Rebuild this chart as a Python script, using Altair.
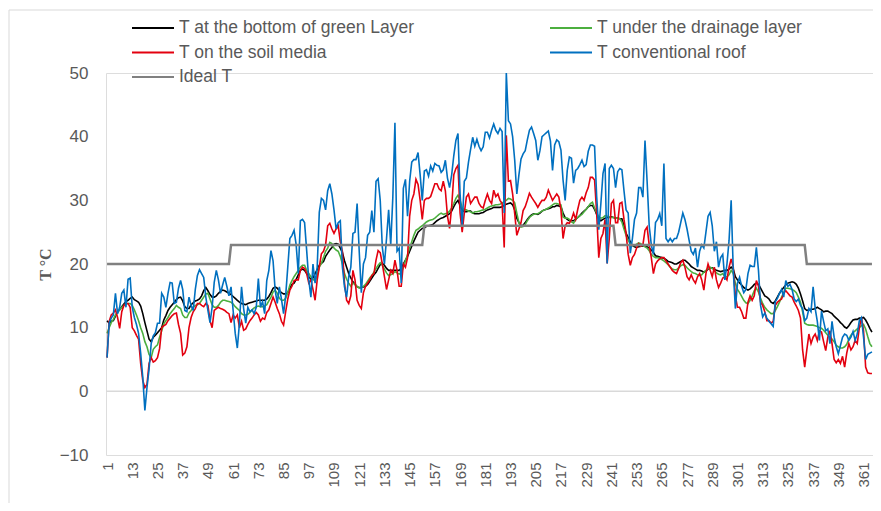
import altair as alt
import pandas as pd

days = list(range(1, 366))

t_bottom = [
    11.1, 10.7, 11.0, 11.1, 11.8, 12.5, 12.8, 13.3, 13.7, 14.1,
    14.3, 14.6, 14.8, 14.4, 14.2, 14.0, 13.4, 12.2, 10.8, 9.5,
    8.2, 7.8, 8.5, 8.8, 9.2, 9.6, 10.0, 11.2, 11.9, 12.7,
    13.2, 13.6, 14.0, 14.4, 14.7, 14.8, 14.2, 13.3, 13.0, 13.0,
    13.6, 13.9, 14.2, 14.3, 14.5, 15.0, 15.8, 16.3, 15.8, 15.2,
    14.8, 14.8, 15.0, 15.4, 15.7, 15.9, 15.8, 15.6, 15.4, 15.2,
    14.9, 14.6, 14.3, 14.0, 13.8, 13.7, 13.6, 13.8, 13.9, 14.0,
    14.1, 14.2, 14.3, 14.3, 14.3, 14.3, 14.5, 14.9, 15.5, 16.2,
    16.4, 16.2, 15.8, 15.5, 15.3, 15.3, 15.5, 16.2, 16.8, 17.0,
    17.6, 18.3, 19.0, 19.2, 19.0, 18.5, 18.0, 17.6, 17.8, 18.5,
    19.1, 19.8, 20.1, 20.4, 21.2, 21.7, 22.2, 22.6, 23.1, 23.2,
    23.1, 22.5, 21.8, 20.5, 19.5, 18.5, 17.8, 17.2, 16.8, 16.4,
    16.3, 16.3, 16.4, 16.5, 16.8, 17.3, 17.8, 18.3, 18.7, 19.3,
    19.9, 20.1, 19.8, 19.3, 19.0, 19.0, 19.0, 19.0, 19.0, 19.0,
    19.3, 20.0, 20.6, 21.2, 22.0, 22.8, 23.6, 24.3, 25.0, 25.3,
    25.6, 25.7, 25.9, 26.0, 26.1, 26.2, 26.5, 26.8, 27.0, 27.2,
    27.3, 27.5, 27.7, 27.9, 28.3, 29.0, 29.6, 30.0, 29.2, 28.5,
    28.2, 28.2, 28.3, 28.3, 28.0, 27.9, 27.9, 27.9, 28.0, 28.1,
    28.3, 28.5, 28.6, 28.7, 28.9, 28.9, 28.9, 28.9, 29.0, 29.2,
    29.4, 29.5, 29.6, 29.3, 28.5, 27.2, 26.5, 26.0, 26.1, 26.5,
    27.0, 27.4, 27.7, 27.9, 27.9, 27.8, 28.0, 28.3, 28.5, 28.6,
    28.7, 28.8, 29.0, 29.0, 29.2, 29.1, 29.0, 28.0, 27.3, 27.0,
    26.8, 26.8, 26.8, 27.0, 27.3, 27.6, 28.0, 28.3, 28.6, 29.0,
    29.2, 29.2, 28.6, 27.8, 27.0, 26.8, 27.0, 27.2, 27.3, 27.3,
    27.4, 27.3, 27.2, 27.2, 27.1, 27.1, 26.0, 24.8, 24.2, 23.5,
    22.9, 22.7, 22.6, 22.7, 22.8, 22.8, 22.8, 22.7, 22.5, 22.2,
    21.8, 21.3, 21.2, 21.1, 21.0, 20.9, 20.7, 20.4, 20.3, 20.2,
    20.0, 20.0, 20.2, 20.4, 20.6, 20.6, 20.3, 20.0, 19.6, 19.4,
    19.2, 19.0, 19.0, 18.9, 18.7, 18.9, 19.2, 19.4, 19.4, 19.2,
    19.0, 18.9, 18.8, 18.9, 19.0, 19.0, 19.2, 19.5, 19.2, 18.0,
    17.5, 17.0, 16.7, 16.3, 16.1, 15.9, 16.1, 16.4, 16.8, 17.0,
    16.8, 16.2, 15.6, 15.0, 14.8, 14.5, 14.0, 13.8, 14.2, 14.8,
    15.4, 15.9, 16.3, 16.7, 17.0, 17.1, 17.2, 17.1, 16.8, 16.2,
    15.3, 14.2, 13.0, 12.7, 12.8, 12.9, 12.9, 13.0, 13.2, 13.0,
    12.8, 12.5, 12.6, 12.6, 12.4, 12.2, 11.8, 11.5, 11.2, 10.8,
    10.5, 10.1, 9.9, 10.3, 10.8, 11.2, 11.3, 11.3, 11.5, 11.5,
    11.6, 11.2, 10.6, 9.9, 9.3,
]

t_drain = [
    9.1, 10.0, 10.8, 11.3, 12.0, 12.4, 12.8, 13.2, 13.5, 13.7,
    13.8, 13.8, 13.5, 12.8, 12.0, 11.1, 10.0, 9.1, 7.8, 7.0,
    5.8, 5.3, 6.6, 7.0, 7.3, 8.5, 9.5, 10.6, 11.1, 11.6,
    12.2, 12.6, 13.0, 13.5, 13.2, 13.0, 12.0, 11.6, 11.6, 12.3,
    12.7, 13.2, 13.5, 13.6, 13.8, 14.3, 14.8, 15.3, 15.4, 14.5,
    13.6, 13.2, 13.2, 13.5, 14.0, 14.3, 14.3, 14.2, 14.1, 14.0,
    13.7, 13.3, 13.0, 12.7, 12.2, 12.0, 12.0, 12.1, 12.4, 12.8,
    13.1, 13.3, 13.4, 13.3, 13.3, 13.4, 13.6, 14.2, 14.8, 15.6,
    15.9, 15.4, 14.6, 14.3, 14.3, 14.6, 15.5, 16.7, 17.4, 18.0,
    18.5, 19.0, 19.5, 19.8, 19.8, 19.0, 18.5, 18.0, 17.6, 17.3,
    18.2, 19.5, 20.1, 21.0, 22.0, 22.5, 23.4, 23.2, 22.5, 22.2,
    22.0, 21.2, 20.0, 18.5, 17.6, 17.0, 16.5, 17.0, 16.8, 16.5,
    16.2, 16.3, 16.5, 16.8, 17.3, 17.8, 18.2, 18.7, 19.3, 19.8,
    20.2, 19.8, 19.2, 18.6, 18.2, 18.3, 18.5, 18.8, 18.6, 18.4,
    18.6, 19.5, 20.5, 21.5, 22.5, 23.5, 24.5, 25.3, 25.5, 25.8,
    26.0, 26.3, 26.6, 26.8, 26.9, 27.0, 27.2, 27.5, 27.8, 28.0,
    27.8, 27.9, 28.0, 28.3, 28.8, 29.5, 30.3, 30.8, 30.0, 28.8,
    28.5, 28.5, 28.3, 28.2, 28.0, 28.2, 28.2, 28.3, 28.4, 28.5,
    28.6, 28.8, 29.0, 29.1, 29.2, 29.3, 29.3, 29.4, 29.6, 29.8,
    30.0, 30.3, 30.2, 30.0, 29.6, 28.0, 26.5, 25.8, 25.9, 26.2,
    26.8, 27.3, 27.6, 27.8, 27.9, 27.9, 28.1, 28.3, 28.5, 28.6,
    28.8, 29.0, 29.3, 29.5, 29.5, 29.4, 29.3, 27.4, 27.2, 27.2,
    27.0, 26.6, 26.4, 27.0, 27.3, 27.6, 27.8, 28.2, 28.6, 29.0,
    29.5, 29.7, 28.8, 28.0, 27.4, 27.2, 27.3, 27.6, 27.5, 27.4,
    27.3, 27.3, 27.2, 27.2, 27.1, 26.6, 25.5, 24.5, 23.7, 23.2,
    22.9, 22.9, 23.1, 23.3, 23.2, 22.9, 22.7, 22.5, 22.1, 21.5,
    21.2, 21.0, 21.0, 20.9, 20.7, 20.5, 20.2, 19.9, 19.5, 19.2,
    19.1, 19.1, 19.4, 19.7, 19.9, 19.8, 19.4, 19.1, 18.8, 18.6,
    18.5, 18.3, 18.2, 18.3, 18.7, 19.0, 19.3, 19.5, 19.3, 19.0,
    18.6, 18.4, 18.3, 18.5, 18.0, 18.0, 18.3, 19.0, 18.5, 17.0,
    16.0, 15.5, 14.9, 14.3, 13.9, 13.8, 14.3, 15.0, 15.8, 16.2,
    15.6, 14.6, 13.8, 13.2, 12.8, 12.5, 12.2, 12.2, 12.7, 13.3,
    14.0, 14.8, 15.5, 16.2, 16.2, 16.1, 16.0, 15.8, 15.5, 14.8,
    14.0, 12.5, 10.7, 10.5, 10.4, 10.4, 10.4, 10.3, 10.2, 10.0,
    9.9, 9.6, 9.2, 8.8, 8.5, 8.2, 7.8, 7.2, 7.0, 6.8,
    6.8, 7.0, 7.4, 8.2, 8.8, 9.2, 9.5, 9.8, 10.0, 10.3,
    10.5, 9.8, 8.6, 7.5, 7.0,
]

t_soil = [
    5.3, 11.0, 12.0, 12.3, 12.8, 11.6, 9.9, 12.5, 13.5, 13.8,
    13.8, 13.2, 10.0, 9.5, 8.8, 8.2, 4.4, 1.7, 0.6, 1.1,
    4.4, 5.3, 4.6, 4.8, 5.3, 6.7, 10.0, 10.3, 10.5, 11.1,
    11.5, 11.9, 12.2, 12.3, 10.5, 9.1, 5.7, 6.0, 7.0, 10.0,
    11.6, 12.5, 13.0, 13.8, 13.8, 13.5, 13.3, 13.8, 13.5, 11.1,
    10.0, 12.7, 13.0, 13.2, 13.0, 12.9, 12.7, 12.4, 12.2, 10.8,
    12.0, 11.5, 12.0, 10.0, 11.0, 9.6, 9.8, 10.5, 11.1, 11.5,
    12.0, 12.4, 12.0, 11.0, 11.5, 11.3, 12.4, 12.8, 13.8, 14.8,
    14.0, 13.0, 12.2, 11.0, 10.4, 12.5, 14.5, 15.9, 16.5, 17.4,
    17.5, 17.5, 19.0, 19.5, 19.3, 18.5, 17.0, 17.5, 16.0, 14.3,
    17.5, 19.5, 21.6, 22.0, 23.0, 26.0, 26.4, 25.5, 24.8, 25.5,
    26.0, 23.5, 22.0, 17.0, 14.3, 13.8, 15.0, 19.0, 17.5, 14.3,
    13.5, 13.0, 15.5, 16.5, 17.0, 17.5, 18.2, 18.5, 20.6, 22.1,
    21.8, 20.0, 18.0, 16.0, 17.5, 19.0, 18.5, 20.6, 19.0, 16.5,
    16.5, 20.0, 19.5, 21.0, 27.5, 30.0, 31.0, 33.3, 32.5, 30.0,
    27.0, 30.0, 30.3, 30.3, 30.6, 31.6, 32.6, 32.6, 31.8, 31.5,
    33.0, 31.5, 27.5, 25.6, 29.0, 34.0, 35.0, 35.5, 28.0, 25.0,
    28.0, 30.5, 31.0, 29.5, 30.0, 30.5, 30.5, 29.5, 29.0, 28.8,
    30.0, 31.0, 30.0, 29.5, 31.6, 30.6, 31.0, 30.0, 29.5, 22.6,
    40.2, 33.0, 33.1, 31.0, 27.9, 24.5, 25.5, 26.5, 28.4, 29.0,
    30.0, 31.1, 30.5, 30.0, 29.5, 28.9, 29.5, 30.0, 30.0, 30.5,
    31.6, 30.8, 30.0, 30.5, 31.0, 30.5, 28.5, 24.0, 26.0, 26.5,
    26.4, 27.0, 28.0, 27.0, 28.6, 30.0, 30.5, 30.0, 31.2, 32.0,
    33.6, 33.6, 33.2, 28.0, 21.0, 24.0, 24.8, 27.0, 20.1, 24.0,
    29.5, 30.0, 26.5, 26.5, 29.5, 29.7, 27.0, 24.8, 21.5, 19.8,
    21.0, 21.5, 22.5, 23.2, 22.8, 23.0, 25.3, 25.8, 23.0, 21.0,
    18.5, 20.0, 20.5, 20.8, 21.0, 21.0, 20.5, 20.0, 19.5, 19.0,
    18.7, 18.5, 19.3, 20.2, 20.6, 19.5, 18.0, 17.5, 18.3, 17.5,
    17.0, 18.0, 18.5, 17.5, 15.9, 18.5, 20.0, 19.0, 18.0, 19.5,
    17.5, 16.3, 17.0, 17.8, 18.0, 17.5, 19.5, 20.8, 19.5, 15.0,
    13.2, 13.2, 12.5, 11.5, 11.5, 14.0, 15.0, 14.3, 15.0, 17.4,
    16.5, 14.0, 13.5, 12.5, 11.1, 11.1, 10.7, 11.0, 13.5, 14.0,
    14.3, 14.5, 15.4, 15.8, 15.4, 15.0, 14.8, 14.0, 13.4, 12.7,
    11.5, 6.5, 3.8, 6.5, 9.0, 7.5, 8.5, 9.0, 8.0, 9.5,
    9.3, 7.8, 6.4, 8.5, 9.5, 7.5, 5.0, 4.5, 5.0, 4.4,
    5.5, 3.8, 6.0, 7.5, 6.5, 7.0, 8.0, 7.5, 10.0, 11.6,
    9.5, 3.8, 2.9, 2.8, 2.8,
]

t_conv = [
    5.3, 10.7, 11.5, 12.0, 15.4, 12.2, 13.2, 15.4, 15.9, 13.2,
    17.6, 17.8, 13.2, 11.6, 10.5, 9.1, 6.0, 2.2, -3.0, 0.6,
    3.5, 7.5, 8.7, 9.2, 10.7, 10.7, 15.4, 14.8, 13.2, 15.4,
    17.1, 17.0, 13.8, 14.0, 16.2, 17.4, 16.0, 12.7, 12.5, 14.8,
    13.5, 12.7, 16.0, 18.2, 19.1, 18.5, 17.9, 14.8, 12.7, 10.8,
    13.2, 17.1, 19.0, 17.5, 15.4, 16.7, 17.9, 16.5, 15.0, 16.4,
    12.7, 9.1, 6.8, 10.7, 16.4, 13.0, 10.7, 13.2, 12.5, 12.8,
    12.2, 13.2, 17.7, 13.2, 14.1, 12.2, 17.4, 19.0, 22.1, 20.5,
    15.9, 13.8, 16.4, 14.5, 12.2, 15.0, 19.5, 24.0, 24.5, 25.3,
    23.0, 18.5, 26.8, 27.0, 26.5, 22.1, 17.5, 14.8, 20.0, 17.0,
    19.5, 28.1, 30.3, 30.0, 28.5, 31.5, 32.6, 31.0, 28.5, 25.5,
    26.5, 26.8, 19.5, 16.4, 14.8, 18.0, 19.5, 24.8, 25.0, 29.5,
    22.0, 15.5, 20.0, 21.0, 24.5, 25.0, 28.4, 25.0, 33.0, 33.4,
    30.0, 22.6, 20.0, 24.0, 28.5, 23.0, 30.5, 42.2, 22.0, 22.5,
    17.0, 31.9, 33.3, 27.5, 33.0, 36.0, 36.4, 36.4, 37.5, 34.0,
    30.0, 34.6, 34.8, 33.8, 35.4, 34.6, 35.8, 35.5, 35.4, 34.4,
    34.8, 36.3, 33.5, 32.0, 34.0, 37.0, 39.4, 40.5, 31.0, 26.0,
    33.0, 33.5, 36.0, 38.0, 39.9, 38.5, 39.6, 38.5, 37.8, 38.4,
    40.7, 40.7, 39.8, 41.0, 42.0, 41.0, 40.5, 41.3, 40.8, 28.0,
    50.0, 42.5, 42.0, 40.0, 36.3, 31.0, 34.0, 36.5, 37.3, 37.8,
    39.5, 41.0, 41.5, 40.5, 39.4, 36.3, 37.8, 40.0, 40.3, 40.6,
    40.9, 39.3, 34.7, 38.7, 39.5, 39.2, 37.9, 33.2, 30.0, 34.7,
    36.8, 36.6, 32.7, 34.7, 35.0, 35.6, 36.3, 35.3, 35.6, 37.7,
    38.7, 38.7, 38.5, 30.6, 25.4, 29.5, 34.2, 35.8, 20.1, 35.0,
    35.5, 35.0, 32.0, 34.5, 35.0, 34.8, 31.5, 28.5, 28.0, 21.7,
    24.0, 27.0, 28.0, 32.0, 32.0, 30.5, 39.4, 33.0, 26.0, 23.0,
    21.5, 26.5, 27.0, 27.9, 26.0, 35.8, 24.0, 23.5, 24.0, 23.5,
    24.0, 24.0, 25.0, 26.5, 28.0, 27.0, 25.5, 23.7, 22.0, 21.5,
    22.5, 19.5, 22.0, 23.0, 22.5, 25.0, 27.5, 28.1, 26.0, 22.0,
    23.5, 19.5, 21.0, 21.5, 17.5, 20.0, 23.7, 30.0, 19.0, 13.0,
    17.0, 17.9, 16.5, 15.5, 16.0, 18.5, 19.8, 19.6, 19.6, 22.6,
    19.0, 13.5, 11.7, 12.3, 11.5, 11.0, 10.6, 10.2, 14.1, 14.6,
    15.4, 16.0, 14.8, 17.4, 16.5, 16.8, 16.0, 14.5, 14.1, 14.5,
    13.5, 13.0, 11.1, 11.5, 13.0, 12.5, 16.4, 13.0, 11.0, 8.0,
    12.6, 11.0, 9.5, 9.8, 7.5, 11.0, 8.5, 7.0, 5.9, 7.2,
    8.5, 9.0, 8.8, 8.0, 8.5, 9.4, 8.0, 9.0, 11.1, 11.6,
    8.5, 5.0, 5.8, 6.0, 6.2,
]

ideal = [20] * 59 + [23] * 92 + [26] * 91 + [23] * 91 + [20] * 32

names = [
    "T at the bottom of green Layer",
    "T under the drainage layer",
    "T on the soil media",
    "T conventional roof",
    "Ideal T",
]
colors = ["#000000", "#4CAF3F", "#E3000F", "#0070C0", "#808080"]
widths = [1.6, 1.6, 1.6, 1.6, 2.5]
series_values = [t_bottom, t_drain, t_soil, t_conv, ideal]
# legend fills column by column: left column black / red / ideal, right column green / blue
legend_order = [0, 2, 4, 1, 3]
x_ticks = list(range(1, 366, 12))
y_ticks = [-10, 0, 10, 20, 30, 40, 50]

rows = []
for name, vals in zip(names, series_values):
    for d, v in zip(days, vals):
        rows.append({"day": d, "temp": v, "series": name})
df = pd.DataFrame(rows)

FONT = "Liberation Sans"
GREY = "#595959"

x_enc = alt.X(
    "day:Q",
    scale=alt.Scale(domain=[0.5, 365.5], nice=False, zero=False),
    axis=alt.Axis(
        values=x_ticks, labelAngle=270, domain=False, ticks=False, grid=False,
        labelFontSize=15, labelColor=GREY, labelFont=FONT, labelPadding=7,
        title=None, labelOverlap=False,
    ),
)
y_enc = alt.Y(
    "temp:Q",
    scale=alt.Scale(domain=[-10, 50], nice=False, zero=False),
    axis=alt.Axis(
        values=y_ticks, domain=False, ticks=False, grid=False,
        labelFontSize=17, labelColor=GREY, labelFont=FONT, labelPadding=18,
        title="T °C", titleFont="Liberation Serif", titleFontSize=16,
        titleFontWeight="bold", titleColor=GREY, titlePadding=6,
    ),
)
color_enc = alt.Color(
    "series:N",
    scale=alt.Scale(
        domain=[names[i] for i in legend_order],
        range=[colors[i] for i in legend_order],
    ),
    legend=alt.Legend(
        orient="none", legendX=25, legendY=-54, columns=2, title=None,
        symbolType="stroke", symbolStrokeWidth=2, symbolSize=1764,
        clipHeight=18, labelFontSize=17.5, labelFont=FONT, labelColor=GREY,
        labelLimit=600, rowPadding=6.5, columnPadding=134, labelOffset=4,
    ),
)

border = alt.Chart(pd.DataFrame({"k": [0]})).mark_rect(
    fillOpacity=0, stroke="#D9D9D9", strokeWidth=1
).encode(
    x=alt.value(-97), x2=alt.value(900), y=alt.value(-63), y2=alt.value(600)
)

zero = alt.Chart(pd.DataFrame({"temp": [0]})).mark_rule(
    color="#D9D9D9", strokeWidth=1.5
).encode(y=y_enc)

layers = [border, zero]
for name, w in zip(names, widths):
    layers.append(
        alt.Chart(df)
        .transform_filter(alt.datum.series == name)
        .mark_line(strokeWidth=w)
        .encode(x=x_enc, y=y_enc, color=color_enc)
    )

chart = (
    alt.layer(*layers)
    .properties(
        width=767, height=382,
        padding={"left": 98, "top": 65, "right": 0, "bottom": 48},
        autosize=alt.AutoSizeParams(type="none"),
    )
    .configure_view(stroke=None)
    .configure(background="white")
)

chart.save("out.html", embed_options={"renderer": "svg", "actions": False})
